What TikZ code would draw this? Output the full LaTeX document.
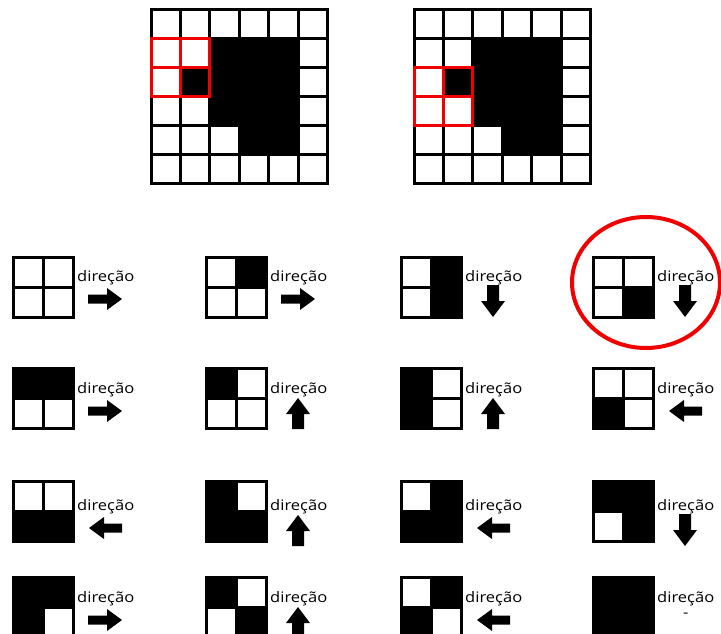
\documentclass[tikz,border=0pt]{standalone}
\usepackage{fontspec}
\newfontfamily\dirfont[FakeStretch=1.14]{Open Sans}
\definecolor{myred}{RGB}{240,0,0}
\tikzset{
  gridline/.style={line width=3pt, line cap=rect},
  redline/.style={line width=3pt, line cap=rect, draw=myred},
  dirtext/.style={font=\dirfont\fontsize{14.5}{16}\selectfont, inner sep=0pt, anchor=base west},
}
\newcommand\arrR{\fill (75,37.5) -- (94,37.5) -- (94,31) -- (109,42) -- (94,53) -- (94,46.5) -- (75,46.5) -- cycle;}
\newcommand\arrL{\fill (109,37.5) -- (91,37.5) -- (91,31) -- (76,42) -- (91,53) -- (91,46.5) -- (109,46.5) -- cycle;}
\newcommand\arrU{\fill (86,60) -- (86,45) -- (80,45) -- (92,29) -- (104,45) -- (98,45) -- (98,60) -- cycle;}
\newcommand\arrD{\fill (86,28) -- (86,44) -- (80,44) -- (92,60) -- (104,44) -- (98,44) -- (98,28) -- cycle;}
\newcommand\arrN{}
% #1 name, #2 x, #3 y, #4 TL, #5 TR, #6 BL, #7 BR, #8 dir, #9 offset
\newcommand\myicon[9]{%
  \begin{scope}[shift={(#2,#3)}]
    \ifnum#4=1 \fill (0,0) rectangle (30,30);\fi
    \ifnum#5=1 \fill (30,0) rectangle (60,30);\fi
    \ifnum#6=1 \fill (0,30) rectangle (30,60);\fi
    \ifnum#7=1 \fill (30,30) rectangle (60,60);\fi
    \draw[gridline] (0,0) rectangle (60,60) (0,30) -- (60,30) (30,0) -- (30,60);
    \begin{scope}[shift={(0,#9)}]
      \node[dirtext] (#1) at (64,24) {direção};
      \csname arr#8\endcsname
    \end{scope}
  \end{scope}}
\newcommand\biggrid[2]{%
  \begin{scope}[shift={(#1,10)}, x=29.4pt, y=-28.9pt]
    \fill (1,2) rectangle (2,3);
    \fill (2,1) rectangle (5,4);
    \fill (3,4) rectangle (5,5);
    \foreach \i in {0,...,6} {\draw[gridline] (\i,0) -- (\i,6); \draw[gridline] (0,\i) -- (6,\i);}
    \foreach \i in {0,1,2} {\draw[redline] (\i,#2) -- (\i,#2+2); \draw[redline] (0,#2+\i) -- (2,#2+\i);}
  \end{scope}}
\begin{document}
\begin{tikzpicture}[x=1pt,y=-1pt]
  \useasboundingbox (0,0) rectangle (721,634);
  \clip (0,0) rectangle (721,634);
  \biggrid{151}{1}
  \biggrid{414}{2}
  % row 1
  \myicon{a1}{13}{257}{0}{0}{0}{0}{R}{0}
  \myicon{a2}{206}{257}{0}{1}{0}{0}{R}{0}
  \myicon{a3}{401}{257}{0}{1}{0}{1}{D}{0}
  \myicon{a4}{593}{257}{0}{0}{0}{1}{D}{0}
  % row 2
  \myicon{b1}{13}{368}{1}{1}{0}{0}{R}{1}
  \myicon{b2}{206}{368}{1}{0}{0}{0}{U}{1}
  \myicon{b3}{401}{368}{1}{0}{1}{0}{U}{1}
  \myicon{b4}{593}{368}{0}{0}{1}{0}{L}{1}
  % row 3
  \myicon{c1}{13}{481}{0}{0}{1}{1}{L}{5}
  \myicon{c2}{206}{481}{1}{0}{1}{1}{U}{5}
  \myicon{c3}{401}{481}{0}{1}{1}{1}{L}{5}
  \myicon{c4}{593}{481}{1}{1}{0}{1}{D}{5}
  % row 4
  \myicon{d1}{13}{577}{1}{1}{1}{0}{R}{1}
  \myicon{d2}{206}{577}{1}{0}{0}{1}{U}{1}
  \myicon{d3}{401}{577}{0}{1}{1}{0}{L}{1}
  \myicon{d4}{593}{577}{1}{1}{1}{1}{N}{1}
  \node[dirtext] (dash) at (683,617) {-};
  % highlight
  \draw[myred, line width=4pt] (646,282.5) ellipse [x radius=74, y radius=65.5];
\end{tikzpicture}
\end{document}
